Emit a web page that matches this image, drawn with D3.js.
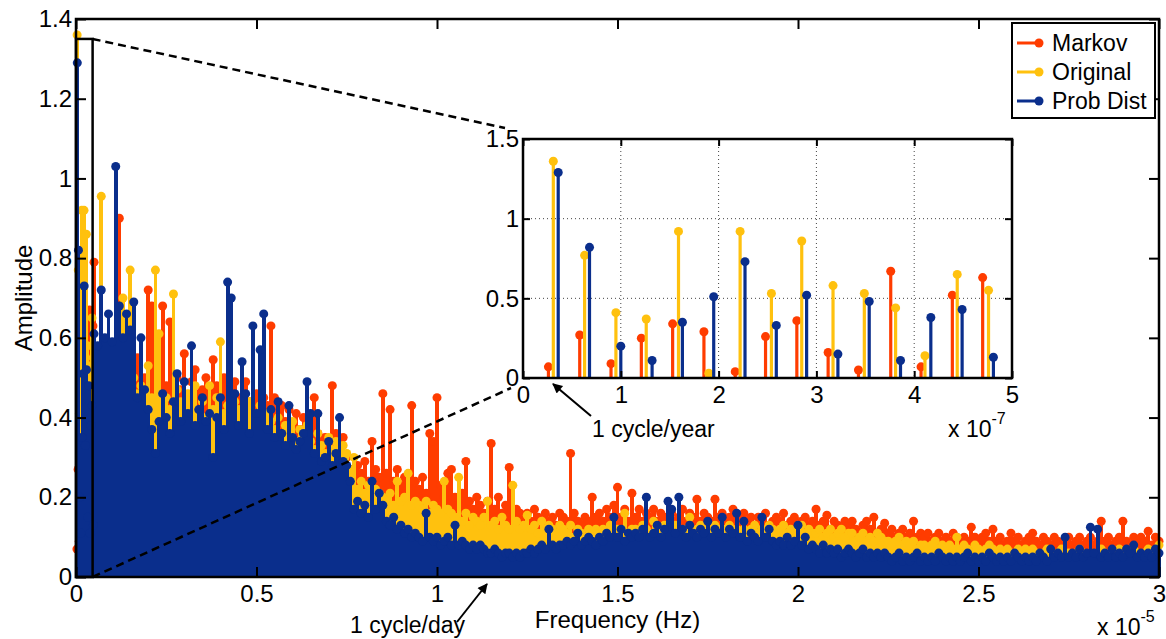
<!DOCTYPE html>
<html>
<head>
<meta charset="utf-8">
<script src="https://cdn.jsdelivr.net/npm/d3@7"></script>
<style>
body { margin: 0; background: #fff; }
svg { display: block; font-family: "Liberation Sans", Arial, sans-serif; }
</style>
</head>
<body>
<svg id="chart" width="1166" height="639"></svg>
<script>
// zoomed part (0 .. 5e-7 Hz), frequencies in units of 1e-7 Hz
const insetFreqMarkov   = [0.26, 0.58, 0.90, 1.21, 1.53, 1.85, 2.17, 2.48, 2.80, 3.12, 3.43, 3.76, 4.07, 4.39, 4.70];
const insetFreqOriginal = [0.31, 0.63, 0.95, 1.26, 1.59, 1.90, 2.22, 2.54, 2.85, 3.17, 3.49, 3.81, 4.11, 4.44, 4.76];
const insetFreqProb     = [0.36, 0.68, 1.00, 1.32, 1.63, 1.95, 2.27, 2.59, 2.90, 3.22, 3.54, 3.86, 4.17, 4.49, 4.81];
const insetMarkov   = [0.07, 0.27, 0.09, 0.25, 0.34, 0.29, 0.04, 0.26, 0.36, 0.16, 0.05, 0.67, 0.07, 0.52, 0.63];
const insetOriginal = [1.36, 0.77, 0.41, 0.37, 0.92, 0.03, 0.92, 0.53, 0.86, 0.58, 0.53, 0.44, 0.14, 0.65, 0.55];
const insetProb     = [1.29, 0.82, 0.20, 0.11, 0.35, 0.51, 0.73, 0.33, 0.52, 0.15, 0.48, 0.11, 0.38, 0.43, 0.13];

// rest of the spectrum: one amplitude every 1e-7 Hz starting at 5e-7 Hz
const mainStart = 5e-7;
const mainStep = 1e-7;
const markov = [
  0.79, 0.50, 0.46, 0.52, 0.48, 0.55, 0.50, 0.90, 0.47, 0.53,
  0.49, 0.52, 0.55, 0.47, 0.50, 0.72, 0.68, 0.51, 0.46, 0.68,
  0.48, 0.64, 0.45, 0.50, 0.47, 0.56, 0.44, 0.49, 0.52, 0.46,
  0.47, 0.50, 0.44, 0.545, 0.48, 0.43, 0.50, 0.46, 0.42, 0.49,
  0.45, 0.41, 0.49, 0.44, 0.40, 0.46, 0.42, 0.45, 0.43, 0.63,
  0.45, 0.40, 0.43, 0.39, 0.42, 0.38, 0.41, 0.37, 0.40, 0.38,
  0.37, 0.45, 0.36, 0.34, 0.35, 0.33, 0.48, 0.36, 0.32, 0.35,
  0.30, 0.27, 0.25, 0.28, 0.26, 0.29, 0.24, 0.34, 0.27, 0.25,
  0.46, 0.26, 0.42, 0.24, 0.27, 0.23, 0.25, 0.22, 0.43, 0.24,
  0.22, 0.25, 0.21, 0.36, 0.34, 0.45, 0.23, 0.20, 0.26, 0.27,
  0.20, 0.18, 0.21, 0.29, 0.19, 0.17, 0.20, 0.18, 0.16, 0.19,
  0.335, 0.17, 0.20, 0.16, 0.18, 0.275, 0.15, 0.17, 0.16, 0.15,
  0.16, 0.14, 0.17, 0.15, 0.13, 0.16, 0.14, 0.15, 0.13, 0.16,
  0.15, 0.14, 0.31, 0.16, 0.14, 0.13, 0.15, 0.14, 0.20, 0.15,
  0.16, 0.14, 0.17, 0.15, 0.18, 0.225, 0.15, 0.17, 0.14, 0.21,
  0.15, 0.17, 0.14, 0.16, 0.15, 0.17, 0.14, 0.16, 0.15, 0.14,
  0.16, 0.14, 0.15, 0.17, 0.14, 0.16, 0.15, 0.195, 0.14, 0.16,
  0.15, 0.14, 0.195, 0.15, 0.16, 0.14, 0.15, 0.17, 0.14, 0.15,
  0.16, 0.14, 0.15, 0.13, 0.15, 0.14, 0.16, 0.13, 0.14, 0.15,
  0.14, 0.16, 0.13, 0.14, 0.15, 0.13, 0.14, 0.15, 0.13, 0.14,
  0.17, 0.13, 0.14, 0.155, 0.12, 0.14, 0.13, 0.12, 0.14, 0.13,
  0.14, 0.12, 0.11, 0.13, 0.14, 0.12, 0.15, 0.11, 0.12, 0.135,
  0.11, 0.12, 0.10, 0.11, 0.12, 0.10, 0.11, 0.14, 0.10, 0.11,
  0.10, 0.11, 0.09, 0.10, 0.11, 0.09, 0.10, 0.09, 0.11, 0.10,
  0.09, 0.10, 0.09, 0.125, 0.10, 0.09, 0.10, 0.11, 0.09, 0.12,
  0.09, 0.10, 0.08, 0.09, 0.11, 0.09, 0.10, 0.08, 0.09, 0.10,
  0.11, 0.09, 0.08, 0.10, 0.09, 0.08, 0.10, 0.09, 0.08, 0.09,
  0.10, 0.08, 0.09, 0.10, 0.08, 0.09, 0.10, 0.08, 0.09, 0.14,
  0.09, 0.10, 0.08, 0.09, 0.10, 0.14, 0.09, 0.08, 0.10, 0.09,
  0.10, 0.09, 0.115, 0.08, 0.10, 0.09
];
const original = [
  0.55, 0.52, 0.955, 0.58, 0.50, 0.56, 0.53, 0.57, 0.70, 0.54,
  0.77, 0.50, 0.46, 0.48, 0.44, 0.53, 0.45, 0.77, 0.61, 0.43,
  0.45, 0.42, 0.71, 0.47, 0.44, 0.40, 0.46, 0.43, 0.48, 0.41,
  0.44, 0.40, 0.48, 0.42, 0.45, 0.59, 0.41, 0.43, 0.39, 0.44,
  0.42, 0.38, 0.41, 0.44, 0.37, 0.40, 0.43, 0.38, 0.41, 0.39,
  0.37, 0.40, 0.35, 0.38, 0.36, 0.39, 0.34, 0.37, 0.35, 0.38,
  0.34, 0.32, 0.36, 0.33, 0.31, 0.35, 0.32, 0.34, 0.30, 0.33,
  0.31, 0.27, 0.30, 0.22, 0.24, 0.21, 0.23, 0.20, 0.22, 0.21,
  0.20, 0.19, 0.21, 0.18, 0.24, 0.19, 0.20, 0.26, 0.18, 0.19,
  0.18, 0.17, 0.19, 0.16, 0.18, 0.17, 0.16, 0.24, 0.17, 0.16,
  0.15, 0.25, 0.14, 0.16, 0.13, 0.15, 0.14, 0.13, 0.15, 0.19,
  0.13, 0.14, 0.12, 0.15, 0.13, 0.12, 0.23, 0.14, 0.12, 0.13,
  0.155, 0.12, 0.13, 0.11, 0.14, 0.12, 0.13, 0.12, 0.11, 0.13,
  0.12, 0.11, 0.13, 0.10, 0.12, 0.11, 0.10, 0.12, 0.11, 0.12,
  0.11, 0.12, 0.10, 0.13, 0.11, 0.12, 0.10, 0.16, 0.11, 0.12,
  0.12, 0.11, 0.13, 0.12, 0.11, 0.14, 0.12, 0.11, 0.13, 0.12,
  0.11, 0.13, 0.12, 0.11, 0.12, 0.15, 0.11, 0.12, 0.13, 0.11,
  0.12, 0.11, 0.13, 0.12, 0.11, 0.12, 0.13, 0.11, 0.12, 0.11,
  0.12, 0.11, 0.12, 0.13, 0.11, 0.12, 0.11, 0.13, 0.12, 0.11,
  0.12, 0.13, 0.11, 0.12, 0.11, 0.12, 0.13, 0.11, 0.12, 0.11,
  0.11, 0.12, 0.10, 0.11, 0.12, 0.10, 0.11, 0.12, 0.10, 0.11,
  0.11, 0.09, 0.10, 0.11, 0.09, 0.10, 0.09, 0.11, 0.10, 0.09,
  0.09, 0.08, 0.09, 0.10, 0.08, 0.09, 0.08, 0.09, 0.07, 0.08,
  0.08, 0.07, 0.08, 0.09, 0.07, 0.08, 0.07, 0.08, 0.07, 0.10,
  0.07, 0.08, 0.07, 0.06, 0.08, 0.07, 0.06, 0.07, 0.08, 0.07,
  0.06, 0.07, 0.06, 0.07, 0.06, 0.05, 0.07, 0.06, 0.07, 0.06,
  0.07, 0.06, 0.05, 0.06, 0.07, 0.06, 0.05, 0.06, 0.07, 0.06,
  0.06, 0.05, 0.06, 0.07, 0.06, 0.05, 0.06, 0.05, 0.06, 0.07,
  0.06, 0.05, 0.06, 0.05, 0.07, 0.06, 0.05, 0.06, 0.07, 0.06,
  0.05, 0.06, 0.07, 0.06, 0.05, 0.08
];
const probDist = [
  0.61, 0.58, 0.72, 0.60, 0.66, 0.59, 1.03, 0.68, 0.60, 0.66,
  0.62, 0.69, 0.45, 0.60, 0.47, 0.42, 0.37, 0.31, 0.39, 0.46,
  0.40, 0.36, 0.44, 0.51, 0.39, 0.49, 0.41, 0.58, 0.38, 0.42,
  0.45, 0.39, 0.41, 0.30, 0.40, 0.45, 0.37, 0.74, 0.70, 0.46,
  0.38, 0.54, 0.46, 0.36, 0.63, 0.41, 0.57, 0.66, 0.37, 0.42,
  0.35, 0.44, 0.36, 0.33, 0.43, 0.35, 0.32, 0.34, 0.36, 0.49,
  0.41, 0.31, 0.41, 0.29, 0.30, 0.34, 0.28, 0.31, 0.40, 0.29,
  0.28, 0.24, 0.17, 0.19, 0.16, 0.18, 0.15, 0.24, 0.17, 0.21,
  0.18, 0.14, 0.13, 0.15, 0.12, 0.13, 0.11, 0.12, 0.10, 0.11,
  0.10, 0.09, 0.16, 0.10, 0.09, 0.10, 0.08, 0.09, 0.10, 0.08,
  0.13, 0.08, 0.09, 0.08, 0.07, 0.08, 0.07, 0.08, 0.07, 0.06,
  0.06, 0.07, 0.06, 0.05, 0.06, 0.06, 0.05, 0.06, 0.05, 0.06,
  0.06, 0.07, 0.06, 0.07, 0.08, 0.07, 0.12, 0.08, 0.07, 0.08,
  0.08, 0.09, 0.08, 0.09, 0.11, 0.08, 0.09, 0.10, 0.09, 0.08,
  0.10, 0.09, 0.11, 0.10, 0.15, 0.10, 0.12, 0.09, 0.11, 0.10,
  0.11, 0.10, 0.12, 0.20, 0.10, 0.11, 0.13, 0.10, 0.12, 0.19,
  0.17, 0.11, 0.20, 0.12, 0.10, 0.13, 0.11, 0.10, 0.12, 0.11,
  0.14, 0.10, 0.12, 0.11, 0.15, 0.10, 0.12, 0.11, 0.16, 0.10,
  0.14, 0.09, 0.11, 0.10, 0.09, 0.15, 0.10, 0.12, 0.09, 0.08,
  0.09, 0.08, 0.10, 0.08, 0.09, 0.13, 0.08, 0.10, 0.07, 0.08,
  0.07, 0.06, 0.08, 0.06, 0.07, 0.06, 0.07, 0.05, 0.06, 0.07,
  0.06, 0.05, 0.06, 0.07, 0.05, 0.06, 0.05, 0.06, 0.05, 0.06,
  0.05, 0.04, 0.05, 0.06, 0.04, 0.05, 0.04, 0.05, 0.06, 0.04,
  0.05, 0.04, 0.05, 0.04, 0.06, 0.05, 0.04, 0.05, 0.04, 0.05,
  0.04, 0.05, 0.06, 0.04, 0.05, 0.04, 0.05, 0.04, 0.06, 0.05,
  0.04, 0.05, 0.04, 0.05, 0.04, 0.06, 0.05, 0.04, 0.05, 0.04,
  0.05, 0.04, 0.06, 0.05, 0.04, 0.07, 0.05, 0.06, 0.05, 0.10,
  0.05, 0.06, 0.05, 0.07, 0.05, 0.06, 0.125, 0.06, 0.12, 0.05,
  0.06, 0.05, 0.07, 0.05, 0.06, 0.05, 0.07, 0.06, 0.08, 0.05,
  0.06, 0.05, 0.06, 0.05, 0.07, 0.06
];

const seriesNames = ["Markov", "Original", "Prob Dist"];
const seriesColors = ["#ff3c00", "#ffc10e", "#0a2e8c"];
const mainXTicks = [0, 0.5e-5, 1e-5, 1.5e-5, 2e-5, 2.5e-5, 3e-5];
const mainYTicks = [0, 0.2, 0.4, 0.6, 0.8, 1, 1.2, 1.4];
const insetXTicks = [0, 1e-7, 2e-7, 3e-7, 4e-7, 5e-7];
const insetYTicks = [0, 0.5, 1, 1.5];
const zoomBox = [0, 4.6e-7, 0, 1.35]; // f1, f2, a1, a2

const svg = d3.select("#chart");
const M = { left: 76, right: 1159, top: 19, bottom: 577 };
const I = { left: 523, right: 1012, top: 139, bottom: 378 };

const x = d3.scaleLinear().domain([0, 3e-5]).range([M.left, M.right]);
const y = d3.scaleLinear().domain([0, 1.4]).range([M.bottom, M.top]);
const xi = d3.scaleLinear().domain([0, 5e-7]).range([I.left, I.right]);
const yi = d3.scaleLinear().domain([0, 1.5]).range([I.bottom, I.top]);

const fmt = d3.format("~g");

// build [freq, amp] pairs for each series
function insetPts(freqs, vals) { return vals.map((v, i) => [freqs[i] * 1e-7, v]); }
function mainPts(vals) { return vals.map((v, i) => [mainStart + i * mainStep, v]); }
const insetSeries = [
  insetPts(insetFreqMarkov, insetMarkov),
  insetPts(insetFreqOriginal, insetOriginal),
  insetPts(insetFreqProb, insetProb)
];
const mainSeries = [
  insetSeries[0].concat(mainPts(markov)),
  insetSeries[1].concat(mainPts(original)),
  insetSeries[2].concat(mainPts(probDist))
];

function drawStems(g, pts, xs, ys, color, sw, r, crisp) {
  g.append("g").attr("shape-rendering", crisp ? "crispEdges" : null)
    .selectAll("line").data(pts).join("line")
    .attr("x1", d => xs(d[0])).attr("x2", d => xs(d[0]))
    .attr("y1", ys(0)).attr("y2", d => ys(d[1]))
    .attr("stroke", color).attr("stroke-width", sw);
  g.append("g").selectAll("circle").data(pts).join("circle")
    .attr("cx", d => xs(d[0])).attr("cy", d => ys(d[1]))
    .attr("r", r).attr("fill", color);
}

function styleAxis(g, size) {
  g.attr("font-family", null).attr("font-size", size);
  g.select(".domain").remove();
  g.selectAll(".tick line").attr("stroke", "#000").attr("stroke-width", 2);
  g.selectAll(".tick text").attr("fill", "#000");
}

// ---- main plot ----
const main = svg.append("g");
mainSeries.forEach((pts, k) => drawStems(main, pts, x, y, seriesColors[k], 3.8, 4.5, true));

main.append("g").attr("transform", `translate(0,${M.bottom})`)
  .call(d3.axisBottom(x).tickValues(mainXTicks).tickSizeInner(-10).tickSizeOuter(0)
    .tickPadding(8).tickFormat(d => fmt(+(d * 1e5).toFixed(2))))
  .call(g => styleAxis(g, 24));
main.append("g").attr("transform", `translate(0,${M.top})`)
  .call(d3.axisTop(x).tickValues(mainXTicks).tickSizeInner(-10).tickSizeOuter(0).tickFormat(""))
  .call(g => styleAxis(g, 24));
main.append("g").attr("transform", `translate(${M.left},0)`)
  .call(d3.axisLeft(y).tickValues(mainYTicks).tickSizeInner(-10).tickSizeOuter(0)
    .tickPadding(4).tickFormat(fmt))
  .call(g => styleAxis(g, 24));
main.append("g").attr("transform", `translate(${M.right},0)`)
  .call(d3.axisRight(y).tickValues(mainYTicks).tickSizeInner(-10).tickSizeOuter(0).tickFormat(""))
  .call(g => styleAxis(g, 24));

main.append("rect")
  .attr("x", M.left).attr("y", M.top)
  .attr("width", M.right - M.left).attr("height", M.bottom - M.top)
  .attr("fill", "none").attr("stroke", "#000").attr("stroke-width", 2.5);

main.append("text").attr("x", (M.left + M.right) / 2).attr("y", 628)
  .attr("text-anchor", "middle").attr("font-size", 24).text("Frequency (Hz)");
main.append("text").attr("transform", `translate(32,${(M.top + M.bottom) / 2}) rotate(-90)`)
  .attr("text-anchor", "middle").attr("font-size", 24).text("Amplitude");
main.append("text").attr("x", 1097).attr("y", 635).attr("font-size", 23)
  .text("x 10").append("tspan").attr("dy", -13).attr("font-size", 16).text("-5");

// zoom box and connector lines
main.append("rect")
  .attr("x", x(zoomBox[0])).attr("y", y(zoomBox[3]))
  .attr("width", x(zoomBox[1]) - x(zoomBox[0])).attr("height", y(zoomBox[2]) - y(zoomBox[3]))
  .attr("fill", "none").attr("stroke", "#000").attr("stroke-width", 2.5);
main.append("line")
  .attr("x1", x(zoomBox[1])).attr("y1", y(zoomBox[3]))
  .attr("x2", I.left - 18).attr("y2", I.top - 11)
  .attr("stroke", "#000").attr("stroke-width", 2.5).attr("stroke-dasharray", "8,5");
main.append("line")
  .attr("x1", x(zoomBox[1])).attr("y1", y(zoomBox[2]))
  .attr("x2", I.left - 12).attr("y2", I.bottom + 10)
  .attr("stroke", "#000").attr("stroke-width", 2.5).attr("stroke-dasharray", "8,5");

// ---- inset ----
const inset = svg.append("g");
inset.append("rect").attr("x", I.left).attr("y", I.top)
  .attr("width", I.right - I.left).attr("height", I.bottom - I.top).attr("fill", "#fff");
inset.append("g").selectAll("line").data(insetXTicks.slice(1, -1)).join("line")
  .attr("x1", d => xi(d)).attr("x2", d => xi(d)).attr("y1", I.top).attr("y2", I.bottom)
  .attr("stroke", "#444").attr("stroke-width", 1).attr("stroke-dasharray", "1,3");
inset.append("g").selectAll("line").data(insetYTicks.slice(1, -1)).join("line")
  .attr("x1", I.left).attr("x2", I.right).attr("y1", d => yi(d)).attr("y2", d => yi(d))
  .attr("stroke", "#444").attr("stroke-width", 1).attr("stroke-dasharray", "1,3");
insetSeries.forEach((pts, k) => drawStems(inset, pts, xi, yi, seriesColors[k], 3.2, 4.5, false));

inset.append("g").attr("transform", `translate(0,${I.bottom})`)
  .call(d3.axisBottom(xi).tickValues(insetXTicks).tickSizeInner(-7).tickSizeOuter(0)
    .tickPadding(8).tickFormat(d => fmt(+(d * 1e7).toFixed(2))))
  .call(g => styleAxis(g, 24));
inset.append("g").attr("transform", `translate(0,${I.top})`)
  .call(d3.axisTop(xi).tickValues(insetXTicks).tickSizeInner(-7).tickSizeOuter(0).tickFormat(""))
  .call(g => styleAxis(g, 24));
inset.append("g").attr("transform", `translate(${I.left},0)`)
  .call(d3.axisLeft(yi).tickValues(insetYTicks).tickSizeInner(-7).tickSizeOuter(0)
    .tickPadding(4).tickFormat(fmt))
  .call(g => styleAxis(g, 24));
inset.append("g").attr("transform", `translate(${I.right},0)`)
  .call(d3.axisRight(yi).tickValues(insetYTicks).tickSizeInner(-7).tickSizeOuter(0).tickFormat(""))
  .call(g => styleAxis(g, 24));
inset.append("rect").attr("x", I.left).attr("y", I.top)
  .attr("width", I.right - I.left).attr("height", I.bottom - I.top)
  .attr("fill", "none").attr("stroke", "#000").attr("stroke-width", 2.5);
inset.append("text").attr("x", 948).attr("y", 437).attr("font-size", 23)
  .text("x 10").append("tspan").attr("dy", -13).attr("font-size", 16).text("-7");

// ---- annotations ----
svg.append("defs").append("marker")
  .attr("id", "arrow").attr("viewBox", "0 0 10 10").attr("refX", 9).attr("refY", 5)
  .attr("markerWidth", 6).attr("markerHeight", 5).attr("orient", "auto")
  .append("path").attr("d", "M0,0 L10,5 L0,10 z").attr("fill", "#000");

svg.append("line").attr("x1", 591).attr("y1", 416).attr("x2", 553).attr("y2", 384)
  .attr("stroke", "#000").attr("stroke-width", 2).attr("marker-end", "url(#arrow)");
svg.append("text").attr("x", 592).attr("y", 437).attr("font-size", 23).text("1 cycle/year");
svg.append("line").attr("x1", 457).attr("y1", 622).attr("x2", 487).attr("y2", 584)
  .attr("stroke", "#000").attr("stroke-width", 2).attr("marker-end", "url(#arrow)");
svg.append("text").attr("x", 350).attr("y", 633).attr("font-size", 23).text("1 cycle/day");

// ---- legend ----
const legend = svg.append("g");
legend.append("rect").attr("x", 1012).attr("y", 23).attr("width", 143).attr("height", 95)
  .attr("fill", "#fff").attr("stroke", "#000").attr("stroke-width", 2);
const legendY = [43, 72, 101];
seriesNames.forEach((name, k) => {
  const ly = legendY[k];
  legend.append("line").attr("x1", 1017).attr("x2", 1040).attr("y1", ly).attr("y2", ly)
    .attr("stroke", seriesColors[k]).attr("stroke-width", 3);
  legend.append("circle").attr("cx", 1039).attr("cy", ly).attr("r", 4.5).attr("fill", seriesColors[k]);
  legend.append("text").attr("x", 1052).attr("y", ly + 8).attr("font-size", 23).text(name);
});
</script>
</body>
</html>
